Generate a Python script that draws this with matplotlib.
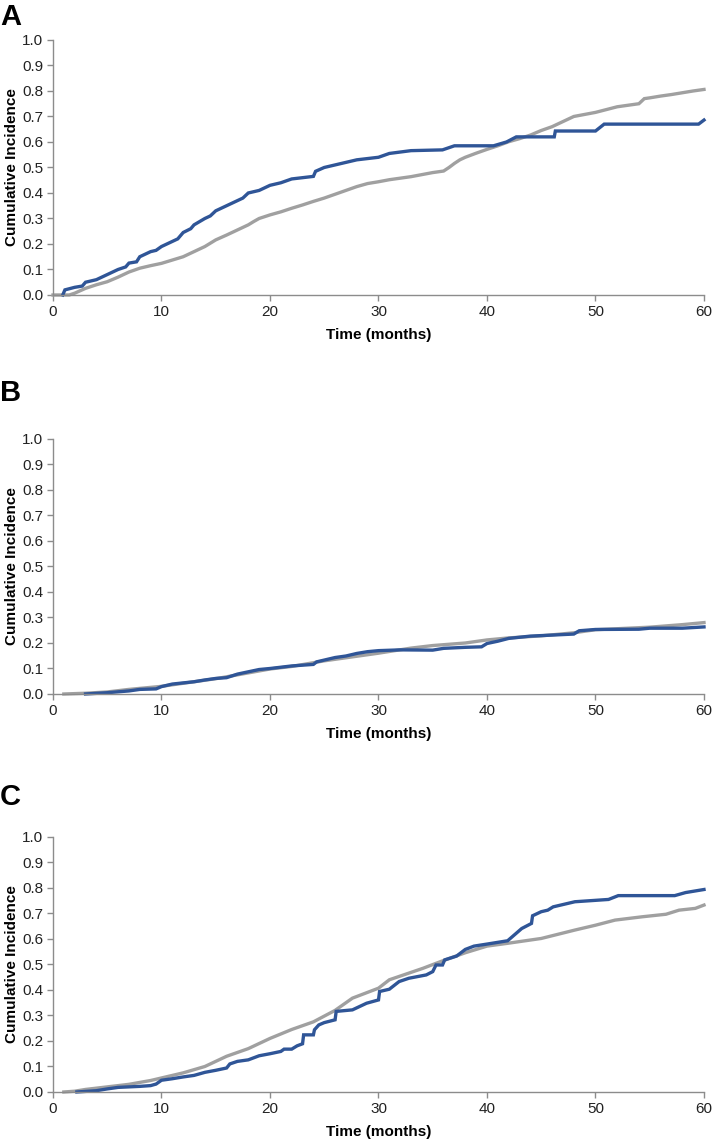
import matplotlib
matplotlib.use("Agg")
import matplotlib.pyplot as plt

plt.rcParams['font.family'] = ['Liberation Sans', 'DejaVu Sans']

# Panel A
a_blue_t = [0.9, 1.1, 2.0, 2.7, 3.0, 4.0, 5.0, 5.5, 6.0, 6.7, 7.0, 7.7, 8.0, 8.5, 9.0, 9.5,
            10.0, 10.5, 11.0, 11.5, 12.0, 12.7, 13.0, 14.0, 14.5, 15.0, 16.0, 17.0, 17.5,
            18.0, 19.0, 20.0, 21.0, 22.0, 23.0, 24.0, 24.2, 25.0, 26.0, 27.0, 28.0, 30.0,
            31.0, 33.0, 35.9, 37.0, 40.6, 41.8, 42.7, 46.2, 46.3, 50.0, 50.8, 59.5, 60.0]
a_blue_v = [0.0, 0.02, 0.03, 0.035, 0.05, 0.06, 0.08, 0.09, 0.10, 0.11, 0.125, 0.13, 0.15,
            0.16, 0.17, 0.175, 0.19, 0.20, 0.21, 0.22, 0.245, 0.26, 0.275, 0.30, 0.31, 0.33,
            0.35, 0.37, 0.38, 0.40, 0.41, 0.43, 0.44, 0.455, 0.46, 0.465, 0.485, 0.50, 0.51,
            0.52, 0.53, 0.54, 0.555, 0.566, 0.569, 0.585, 0.585, 0.60, 0.62, 0.62, 0.643,
            0.643, 0.67, 0.67, 0.686]
a_gray_t = [0.0, 1.5, 2.0, 3.0, 4.0, 5.0, 6.0, 7.0, 8.0, 9.0, 10.0, 11.0, 12.0, 13.0, 14.0,
            15.0, 16.0, 17.0, 18.0, 18.5, 19.0, 20.0, 21.0, 22.0, 23.0, 24.0, 25.0, 26.0,
            27.0, 28.0, 29.0, 30.0, 31.0, 32.0, 33.0, 34.0, 35.0, 36.0, 36.5, 37.0, 37.5,
            38.0, 39.0, 40.0, 41.0, 42.0, 43.0, 44.0, 45.0, 46.0, 47.0, 48.0, 49.0, 50.0,
            51.0, 52.0, 53.0, 54.0, 54.5, 55.0, 56.0, 57.0, 58.0, 59.0, 60.0]
a_gray_v = [0.0, 0.0, 0.007, 0.026, 0.04, 0.052, 0.07, 0.09, 0.105, 0.115, 0.124, 0.137,
            0.15, 0.17, 0.19, 0.216, 0.235, 0.255, 0.275, 0.288, 0.30, 0.314, 0.326, 0.34,
            0.353, 0.367, 0.38, 0.395, 0.41, 0.425, 0.437, 0.444, 0.452, 0.458, 0.464, 0.472,
            0.48, 0.486, 0.50, 0.516, 0.53, 0.54, 0.556, 0.571, 0.585, 0.601, 0.613, 0.627,
            0.645, 0.66, 0.68, 0.70, 0.708, 0.716, 0.727, 0.738, 0.744, 0.75, 0.77, 0.773,
            0.78, 0.786, 0.793, 0.80, 0.806]

# Panel B
b_blue_t = [3.0, 5.0, 7.0, 8.0, 9.5, 10.0, 11.0, 13.0, 14.0, 15.0, 16.0, 17.0, 18.0, 19.0,
            20.0, 22.0, 24.0, 24.3, 25.0, 26.0, 27.0, 28.0, 29.0, 30.0, 32.0, 35.0, 36.0,
            38.0, 39.5, 40.0, 41.0, 42.0, 44.0, 46.0, 48.0, 48.5, 50.0, 54.0, 55.0, 58.0, 60.0]
b_blue_v = [0.0, 0.005, 0.012, 0.018, 0.02, 0.029, 0.039, 0.048, 0.055, 0.061, 0.064, 0.078,
            0.087, 0.096, 0.10, 0.11, 0.116, 0.126, 0.133, 0.143, 0.149, 0.159, 0.166, 0.17,
            0.173, 0.172, 0.179, 0.183, 0.185, 0.198, 0.207, 0.218, 0.227, 0.231, 0.235,
            0.248, 0.253, 0.254, 0.258, 0.258, 0.263]
b_gray_t = [1.0, 3.0, 5.0, 7.0, 10.0, 12.0, 15.0, 17.0, 20.0, 22.0, 25.0, 28.0, 30.0, 33.0,
            35.0, 38.0, 40.0, 42.0, 45.0, 48.0, 50.0, 55.0, 58.0, 60.0]
b_gray_v = [0.0, 0.003, 0.008, 0.018, 0.03, 0.042, 0.06, 0.075, 0.098, 0.108, 0.13, 0.148,
            0.16, 0.18, 0.19, 0.20, 0.212, 0.22, 0.228, 0.24, 0.252, 0.262, 0.272, 0.28]

# Panel C
c_blue_t = [2.2, 4.0, 5.0, 6.0, 8.0, 9.0, 9.5, 10.0, 11.0, 12.0, 13.0, 14.0, 15.0, 16.0, 16.3,
            17.0, 18.0, 19.0, 20.0, 21.0, 21.3, 22.0, 22.5, 23.0, 23.1, 24.0, 24.1, 24.5,
            25.0, 26.0, 26.1, 27.6, 28.9, 30.0, 30.1, 31.0, 31.9, 32.8, 34.4, 35.0, 35.3,
            35.9, 36.1, 37.2, 38.0, 38.8, 40.0, 41.9, 43.2, 44.1, 44.2, 45.0, 45.6, 46.1,
            48.1, 51.2, 52.1, 57.3, 58.3, 60.0]
c_blue_v = [0.0, 0.005, 0.012, 0.018, 0.022, 0.025, 0.031, 0.046, 0.052, 0.059, 0.065, 0.077,
            0.085, 0.094, 0.11, 0.12, 0.126, 0.142, 0.15, 0.159, 0.168, 0.168, 0.181, 0.189,
            0.224, 0.224, 0.244, 0.263, 0.272, 0.283, 0.316, 0.322, 0.348, 0.361, 0.394,
            0.403, 0.433, 0.446, 0.459, 0.472, 0.498, 0.498, 0.518, 0.533, 0.559, 0.572,
            0.58, 0.593, 0.641, 0.661, 0.691, 0.707, 0.713, 0.726, 0.746, 0.755, 0.77, 0.77,
            0.782, 0.794]
c_gray_t = [1.0, 2.0, 3.0, 5.0, 7.0, 9.0, 10.0, 12.0, 14.0, 16.0, 18.0, 20.0, 22.0, 24.0,
            26.0, 27.6, 30.0, 31.0, 34.1, 35.7, 38.0, 40.0, 41.9, 45.0, 48.1, 50.0, 51.8,
            54.3, 56.5, 57.7, 59.2, 60.0]
c_gray_v = [0.0, 0.003, 0.01, 0.02, 0.03, 0.045, 0.055, 0.075, 0.10, 0.14, 0.17, 0.21, 0.245,
            0.275, 0.32, 0.368, 0.407, 0.44, 0.485, 0.511, 0.546, 0.572, 0.583, 0.602, 0.635,
            0.654, 0.674, 0.687, 0.697, 0.713, 0.72, 0.733]

panels = [
    ("A", a_blue_t, a_blue_v, a_gray_t, a_gray_v, 0.7417, 0.985),
    ("B", b_blue_t, b_blue_v, b_gray_t, b_gray_v, 0.3923, 0.656),
    ("C", c_blue_t, c_blue_v, c_gray_t, c_gray_v, 0.0438, 0.302),
]

x_ticks = [0, 10, 20, 30, 40, 50, 60]
y_ticks = [0.0, 0.1, 0.2, 0.3, 0.4, 0.5, 0.6, 0.7, 0.8, 0.9, 1.0]

fig = plt.figure(figsize=(7.14, 11.42), dpi=100)
for label, bt, bv, gt, gv, bottom, label_y in panels:
    ax = fig.add_axes([0.0742, bottom, 0.9118, 0.2233])
    ax.plot(gt, gv, color='#a0a0a0', lw=2.4, solid_joinstyle='miter', clip_on=False)
    ax.plot(bt, bv, color='#2f5597', lw=2.4, solid_joinstyle='miter', clip_on=False)
    ax.set_xlim(0, 60)
    ax.set_ylim(0, 1.0)
    ax.set_xticks(x_ticks)
    ax.set_yticks(y_ticks)
    ax.set_yticklabels(['%.1f' % v for v in y_ticks])
    for s in ['top', 'right']:
        ax.spines[s].set_visible(False)
    for s in ['left', 'bottom']:
        ax.spines[s].set_color('#8c8c8c')
        ax.spines[s].set_linewidth(1.0)
    ax.tick_params(colors='#8c8c8c', labelcolor='#222222', labelsize=11, length=4, width=1.0,
                   pad=3)
    ax.set_xlabel('Time (months)', fontsize=11, fontweight='bold', labelpad=7)
    ax.set_ylabel('Cumulative Incidence', fontsize=11, fontweight='bold', labelpad=2)
    fig.text(0.0, label_y, label, fontsize=21, fontweight='bold', va='center', ha='left')

fig.savefig('out.png', dpi=100)
